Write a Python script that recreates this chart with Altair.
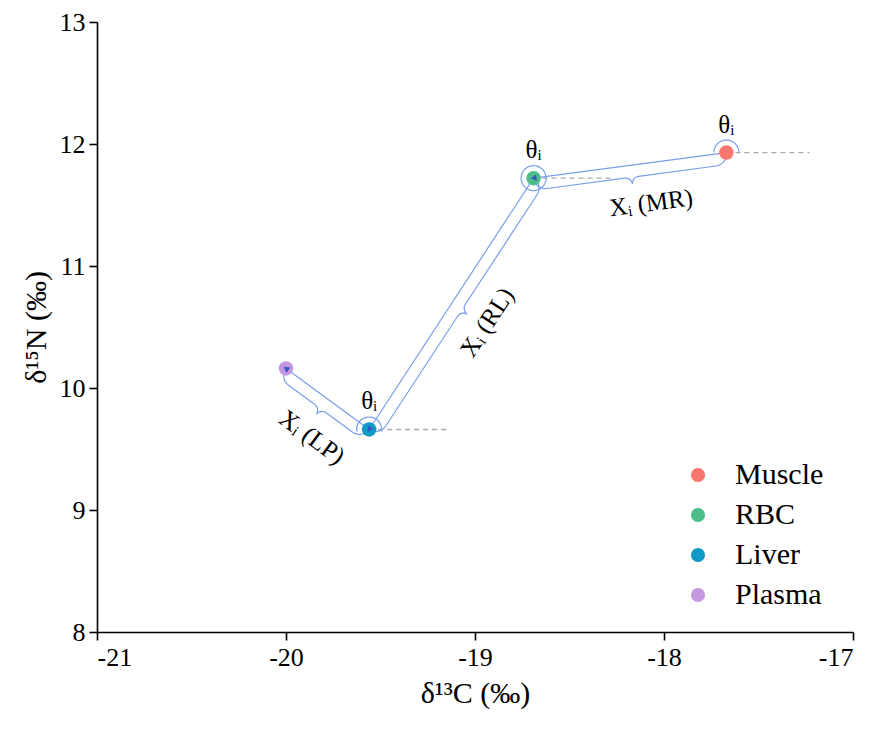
import math
import numpy as np
import pandas as pd
import altair as alt

# ---------------- data ----------------
tissues = ["Muscle", "RBC", "Liver", "Plasma"]
d13C = [-17.67, -18.69, -19.56, -20.00]
d15N = [11.93, 11.72, 9.66, 10.16]
colors = ["#F8766D", "#4DBD8A", "#0E9AC4", "#C597E0"]

# arrows: from -> to, label
seg_from = ["Muscle", "RBC", "Liver"]
seg_to = ["RBC", "Liver", "Plasma"]
seg_label = ["MR", "RL", "LP"]

# horizontal dashed reference lines (start tissue, end d13C)
dash_tissue = ["Muscle", "RBC", "Liver"]
dash_end = [-17.23, -18.27, -19.13]

theta_tissue = ["Muscle", "RBC", "Liver"]

XMIN, XMAX = -21, -17
YMIN, YMAX = 8, 13
x_ticks = [-21, -20, -19, -18, -17]
y_ticks = [8, 9, 10, 11, 12, 13]

# ---------------- layout ----------------
W, H = 756, 610
SERIF = "Liberation Serif"
LINE = "#7A9EEA"
ARROW = "#3457C8"

pos = {t: (x, y) for t, x, y in zip(tissues, d13C, d15N)}


def to_px(x, y):
    return ((x - XMIN) / (XMAX - XMIN) * W, (YMAX - y) / (YMAX - YMIN) * H)


def to_data(px, py):
    return (XMIN + px / W * (XMAX - XMIN), YMAX - py / H * (YMAX - YMIN))


def frame(a, b):
    A = np.array(to_px(*pos[a]))
    B = np.array(to_px(*pos[b]))
    v = B - A
    L = float(np.hypot(*v))
    u = v / L
    n = np.array([u[1], -u[0]])
    return A, B, u, n, L


conn_rows, brace_rows, arrow_rows, lab_rows = [], [], [], []
label_shift = {"MR": -16, "RL": -4, "LP": -10}
D, TIP = 12.0, 19.0
for a, b, lab in zip(seg_from, seg_to, seg_label):
    A, B, u, n, L = frame(a, b)
    for k, P in enumerate([A, B]):
        x, y = to_data(*P)
        conn_rows.append({"x": x, "y": y, "seg": lab, "o": k})
    half = []
    r = D
    for ph in np.linspace(0, math.pi / 2, 10):
        half.append((r - r * math.cos(ph), r * math.sin(ph)))
    r2 = TIP - D
    for ph in np.linspace(0, math.pi / 2, 8):
        half.append((L / 2 - r2 + r2 * math.sin(ph), D + r2 - r2 * math.cos(ph)))
    full = half + [(L - s, t) for s, t in reversed(half)]
    for k, (s, t) in enumerate(full):
        P = A + u * s + n * t
        x, y = to_data(*P)
        brace_rows.append({"x": x, "y": y, "seg": lab, "o": k})
    P = B - u * 1.0
    x, y = to_data(*P)
    ang = math.degrees(math.atan2(u[0], -u[1])) % 360
    arrow_rows.append({"x": x, "y": y, "ang": ang})
    M = (A + B) / 2 + n * 40 + u * label_shift[lab]
    x, y = to_data(*M)
    tang = math.degrees(math.atan2(-u[1], -u[0])) % 360
    lab_rows.append({"x": x, "y": y, "ang": tang, "text": "Xᵢ (" + lab + ")"})

arc_rows = []
arc_span = {"Muscle": (180, 360), "RBC": (0, 360), "Liver": (170, 370)}
R = 12.5
for t in theta_tissue:
    cx, cy = to_px(*pos[t])
    a0, a1 = arc_span[t]
    for k, deg in enumerate(np.linspace(a0, a1, 40)):
        px = cx + R * math.cos(math.radians(deg))
        py = cy + R * math.sin(math.radians(deg))
        x, y = to_data(px, py)
        arc_rows.append({"x": x, "y": y, "seg": t, "o": k})

pts = pd.DataFrame({"x": d13C, "y": d15N, "tissue": tissues})
dash = pd.DataFrame({
    "x": [pos[t][0] for t in dash_tissue],
    "x2": dash_end,
    "y": [pos[t][1] for t in dash_tissue],
})
theta_df = pd.DataFrame({
    "x": [pos[t][0] for t in theta_tissue],
    "y": [pos[t][1] for t in theta_tissue],
    "text": ["θᵢ"] * len(theta_tissue),
})


def X():
    return alt.X("x:Q", scale=alt.Scale(domain=[XMIN, XMAX], nice=False, zero=False),
                 axis=alt.Axis(values=x_ticks, title="δ¹³C (‰)",
                               labelExpr="toString(datum.value)"))


def Y():
    return alt.Y("y:Q", scale=alt.Scale(domain=[YMIN, YMAX], nice=False, zero=False),
                 axis=alt.Axis(values=y_ticks, title="δ¹⁵N (‰)",
                               labelExpr="toString(datum.value)"))


dash_layer = alt.Chart(dash).mark_rule(color="#AAAAAA", strokeDash=[5, 4], strokeWidth=1.3).encode(
    x=X(), x2="x2:Q", y=Y())
conn_layer = alt.Chart(pd.DataFrame(conn_rows)).mark_line(color=LINE, strokeWidth=1.2).encode(
    x=X(), y=Y(), detail="seg:N", order="o:Q")
brace_layer = alt.Chart(pd.DataFrame(brace_rows)).mark_line(color=LINE, strokeWidth=1.2).encode(
    x=X(), y=Y(), detail="seg:N", order="o:Q")
arc_layer = alt.Chart(pd.DataFrame(arc_rows)).mark_line(color=LINE, strokeWidth=1.2).encode(
    x=X(), y=Y(), detail="seg:N", order="o:Q")
pt_layer = alt.Chart(pts).mark_circle(size=210, opacity=1).encode(
    x=X(), y=Y(),
    color=alt.Color("tissue:N", scale=alt.Scale(domain=tissues, range=colors),
                    sort=tissues,
                    legend=alt.Legend(title=None, orient="none", legendX=586, legendY=438,
                                      labelFont=SERIF, labelFontSize=30, labelColor="black",
                                      symbolType="circle", symbolSize=200, symbolStrokeWidth=0,
                                      symbolOpacity=1, rowPadding=10, labelOffset=22,
                                      padding=0)))
arrow_layer = alt.Chart(pd.DataFrame(arrow_rows)).mark_point(
    shape="triangle", filled=True, color=ARROW, size=45, opacity=1).encode(
    x=X(), y=Y(), angle=alt.Angle("ang:Q", scale=None))
theta_layer = alt.Chart(theta_df).mark_text(font=SERIF, fontSize=25, color="black", dy=-28).encode(
    x=X(), y=Y(), text="text:N")
lab_layer = alt.Chart(pd.DataFrame(lab_rows)).mark_text(font=SERIF, fontSize=25, color="black",
                                                        baseline="middle", align="center").encode(
    x=X(), y=Y(), text="text:N", angle=alt.Angle("ang:Q", scale=None))

chart = alt.layer(dash_layer, conn_layer, brace_layer, arc_layer, pt_layer, arrow_layer,
                  theta_layer, lab_layer).properties(
    width=W, height=H,
    padding={"left": 89, "top": 14, "right": 4, "bottom": 80},
    autosize=alt.AutoSizeParams(type="none"),
).configure_view(stroke=None).configure_axis(
    grid=False, domainColor="black", domainWidth=1.6, tickColor="black", tickWidth=1.6,
    tickSize=8, labelFont=SERIF, labelFontSize=26, labelColor="black", labelPadding=4,
    titleFont=SERIF, titleFontSize=30, titleFontWeight="normal", titleColor="black",
).configure_axisX(titlePadding=8).configure_axisY(titlePadding=8)

chart.save("out.html", embed_options={"renderer": "svg", "actions": False})
